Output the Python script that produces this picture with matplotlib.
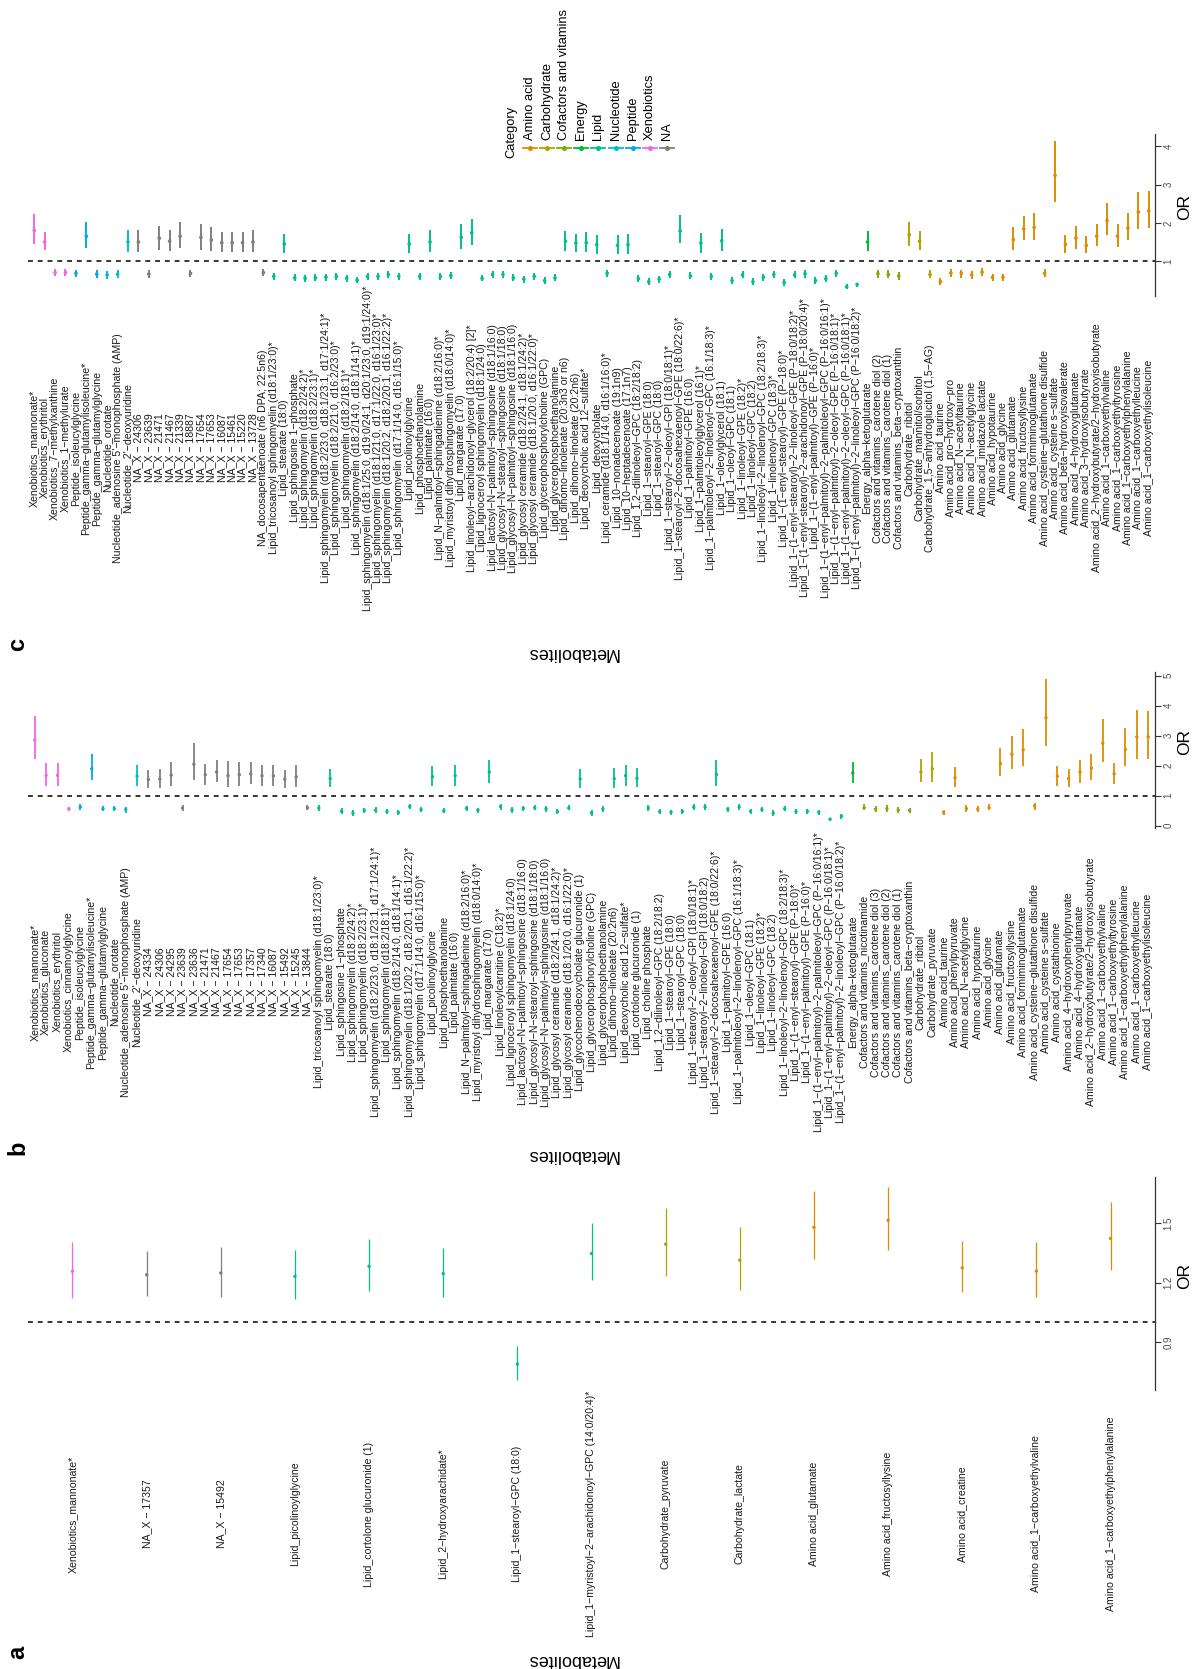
import matplotlib
matplotlib.use("Agg")
import matplotlib.pyplot as plt
from matplotlib.lines import Line2D
import numpy as np

plt.rcParams['font.family'] = ['Liberation Sans', 'DejaVu Sans']

CATEGORIES = ["Amino acid", "Carbohydrate", "Cofactors and vitamins", "Energy", "Lipid",
              "Nucleotide", "Peptide", "Xenobiotics", "NA"]
CAT_COLORS = ["#DE8C00", "#B79F00", "#7CAE00", "#00BA38", "#00C08B",
              "#00BFC4", "#00A9F0", "#F564E3", "#7F7F7F"]

# ---------------- panel a ----------------
labels_a = ["Xenobiotics_mannonate*", "NA_X - 17357", "NA_X - 15492", "Lipid_picolinoylglycine",
            "Lipid_cortolone glucuronide (1)", "Lipid_2-hydroxyarachidate*", "Lipid_1-stearoyl-GPC (18:0)",
            "Lipid_1-myristoyl-2-arachidonoyl-GPC (14:0/20:4)*", "Carbohydrate_pyruvate", "Carbohydrate_lactate",
            "Amino acid_glutamate", "Amino acid_fructosyllysine", "Amino acid_creatine",
            "Amino acid_1-carboxyethylvaline", "Amino acid_1-carboxyethylphenylalanine"]
or_a = [1.257, 1.239, 1.248, 1.231, 1.282, 1.245, 0.787, 1.347, 1.394, 1.313, 1.479, 1.515, 1.274, 1.258, 1.423]
lo_a = [1.121, 1.130, 1.128, 1.116, 1.155, 1.128, 0.705, 1.214, 1.233, 1.162, 1.320, 1.363, 1.150, 1.125, 1.262]
hi_a = [1.404, 1.359, 1.378, 1.365, 1.421, 1.373, 0.880, 1.500, 1.575, 1.483, 1.661, 1.685, 1.411, 1.407, 1.606]

# ---------------- panel b ----------------
labels_b = [
    "Xenobiotics_mannonate*", "Xenobiotics_gluconate", "Xenobiotics_erythritol", "Xenobiotics_cinnamoylglycine",
    "Peptide_isoleucylglycine", "Peptide_gamma-glutamylisoleucine*", "Peptide_gamma-glutamylglycine",
    "Nucleotide_orotate", "Nucleotide_adenosine 5'-monophosphate (AMP)", "Nucleotide_2'-deoxyuridine",
    "NA_X - 24334", "NA_X - 24306", "NA_X - 24295", "NA_X - 23639", "NA_X - 23636", "NA_X - 21471",
    "NA_X - 21467", "NA_X - 17654", "NA_X - 17653", "NA_X - 17357", "NA_X - 17340", "NA_X - 16087",
    "NA_X - 15492", "NA_X - 15245", "NA_X - 13844",
    "Lipid_tricosanoyl sphingomyelin (d18:1/23:0)*", "Lipid_stearate (18:0)", "Lipid_sphingosine 1-phosphate",
    "Lipid_sphingomyelin (d18:2/24:2)*", "Lipid_sphingomyelin (d18:2/23:1)*",
    "Lipid_sphingomyelin (d18:2/23:0, d18:1/23:1, d17:1/24:1)*", "Lipid_sphingomyelin (d18:2/18:1)*",
    "Lipid_sphingomyelin (d18:2/14:0, d18:1/14:1)*", "Lipid_sphingomyelin (d18:1/20:2, d18:2/20:1, d16:1/22:2)*",
    "Lipid_sphingomyelin (d17:1/14:0, d16:1/15:0)*", "Lipid_picolinoylglycine", "Lipid_phosphoethanolamine",
    "Lipid_palmitate (16:0)", "Lipid_N-palmitoyl-sphingadienine (d18:2/16:0)*",
    "Lipid_myristoyl dihydrosphingomyelin (d18:0/14:0)*", "Lipid_margarate (17:0)",
    "Lipid_linoleoylcarnitine (C18:2)*", "Lipid_lignoceroyl sphingomyelin (d18:1/24:0)",
    "Lipid_lactosyl-N-palmitoyl-sphingosine (d18:1/16:0)", "Lipid_glycosyl-N-stearoyl-sphingosine (d18:1/18:0)",
    "Lipid_glycosyl-N-palmitoyl-sphingosine (d18:1/16:0)", "Lipid_glycosyl ceramide (d18:2/24:1, d18:1/24:2)*",
    "Lipid_glycosyl ceramide (d18:1/20:0, d16:1/22:0)*", "Lipid_glycochenodeoxycholate glucuronide (1)",
    "Lipid_glycerophosphorylcholine (GPC)", "Lipid_glycerophosphoethanolamine", "Lipid_dihomo-linoleate (20:2n6)",
    "Lipid_deoxycholic acid 12-sulfate*", "Lipid_cortolone glucuronide (1)", "Lipid_choline phosphate",
    "Lipid_1,2-dilinoleoyl-GPC (18:2/18:2)", "Lipid_1-stearoyl-GPE (18:0)", "Lipid_1-stearoyl-GPC (18:0)",
    "Lipid_1-stearoyl-2-oleoyl-GPI (18:0/18:1)*", "Lipid_1-stearoyl-2-linoleoyl-GPI (18:0/18:2)",
    "Lipid_1-stearoyl-2-docosahexaenoyl-GPE (18:0/22:6)*", "Lipid_1-palmitoyl-GPE (16:0)",
    "Lipid_1-palmitoleoyl-2-linolenoyl-GPC (16:1/18:3)*", "Lipid_1-oleoyl-GPC (18:1)",
    "Lipid_1-linoleoyl-GPE (18:2)*", "Lipid_1-linoleoyl-GPC (18:2)",
    "Lipid_1-linoleoyl-2-linolenoyl-GPC (18:2/18:3)*", "Lipid_1-(1-enyl-stearoyl)-GPE (P-18:0)*",
    "Lipid_1-(1-enyl-palmitoyl)-GPE (P-16:0)*", "Lipid_1-(1-enyl-palmitoyl)-2-palmitoleoyl-GPC (P-16:0/16:1)*",
    "Lipid_1-(1-enyl-palmitoyl)-2-oleoyl-GPC (P-16:0/18:1)*",
    "Lipid_1-(1-enyl-palmitoyl)-2-linoleoyl-GPC (P-16:0/18:2)*",
    "Energy_alpha-ketoglutarate", "Cofactors and vitamins_nicotinamide",
    "Cofactors and vitamins_carotene diol (3)", "Cofactors and vitamins_carotene diol (2)",
    "Cofactors and vitamins_carotene diol (1)", "Cofactors and vitamins_beta-cryptoxanthin",
    "Carbohydrate_ribitol", "Carbohydrate_pyruvate",
    "Amino acid_taurine", "Amino acid_phenylpyruvate", "Amino acid_N-acetylglycine", "Amino acid_hypotaurine",
    "Amino acid_glycine", "Amino acid_glutamate", "Amino acid_fructosyllysine", "Amino acid_formiminoglutamate",
    "Amino acid_cysteine-glutathione disulfide", "Amino acid_cysteine s-sulfate", "Amino acid_cystathionine",
    "Amino acid_4-hydroxyphenylpyruvate", "Amino acid_4-hydroxyglutamate",
    "Amino acid_2-hydroxybutyrate/2-hydroxyisobutyrate", "Amino acid_1-carboxyethylvaline",
    "Amino acid_1-carboxyethyltyrosine", "Amino acid_1-carboxyethylphenylalanine",
    "Amino acid_1-carboxyethylleucine", "Amino acid_1-carboxyethylisoleucine"]
or_b = [2.86, 1.68, 1.68, 0.56, 0.63, 1.90, 0.57, 0.57, 0.54, 1.65,
        1.54, 1.56, 1.69, 0.59, 2.05, 1.70, 1.79, 1.67, 1.70, 1.73, 1.66, 1.66, 1.55, 1.63, 0.60,
        0.59, 1.57, 0.48, 0.43, 0.51, 0.52, 0.47, 0.44, 0.64, 0.54, 1.64, 0.49, 1.67, 0.58, 0.52,
        1.79, 0.64, 0.53, 0.58, 0.60, 0.56, 0.47, 0.59, 1.56, 0.43, 0.56, 1.57, 1.67, 1.58, 0.59,
        0.47, 0.45, 0.48, 0.62, 0.62, 1.71, 0.55, 0.63, 0.48, 0.54, 0.42, 0.57, 0.47, 0.48, 0.45,
        0.22, 0.32, 1.76, 0.60, 0.55, 0.57, 0.52, 0.51, 1.79, 1.90,
        0.44, 1.60, 0.57, 0.55, 0.60, 2.07, 2.38, 2.53, 0.66, 3.60, 1.65, 1.57, 1.78, 1.92, 2.75,
        1.73, 2.55, 2.96, 2.96]
lo_b = [2.23, 1.34, 1.34, 0.48, 0.54, 1.51, 0.48, 0.48, 0.44, 1.31,
        1.26, 1.26, 1.34, 0.49, 1.54, 1.37, 1.45, 1.30, 1.34, 1.38, 1.34, 1.34, 1.26, 1.30, 0.51,
        0.49, 1.29, 0.40, 0.34, 0.42, 0.43, 0.40, 0.35, 0.55, 0.45, 1.31, 0.41, 1.32, 0.49, 0.43,
        1.44, 0.54, 0.44, 0.49, 0.51, 0.47, 0.38, 0.51, 1.26, 0.34, 0.47, 1.26, 1.34, 1.29, 0.49,
        0.38, 0.36, 0.40, 0.52, 0.52, 1.33, 0.46, 0.53, 0.40, 0.45, 0.33, 0.48, 0.38, 0.40, 0.36,
        0.16, 0.24, 1.42, 0.51, 0.45, 0.47, 0.42, 0.42, 1.45, 1.47,
        0.35, 1.30, 0.46, 0.45, 0.51, 1.65, 1.89, 1.98, 0.54, 2.66, 1.34, 1.29, 1.42, 1.54, 2.11,
        1.40, 1.98, 2.24, 2.24]
hi_b = [3.65, 2.09, 2.09, 0.64, 0.73, 2.40, 0.66, 0.66, 0.62, 2.01,
        1.86, 1.90, 2.12, 0.69, 2.76, 2.07, 2.19, 2.15, 2.13, 2.12, 2.01, 2.01, 1.87, 2.02, 0.70,
        0.69, 1.90, 0.58, 0.53, 0.60, 0.62, 0.56, 0.53, 0.74, 0.63, 2.00, 0.58, 2.04, 0.67, 0.60,
        2.20, 0.74, 0.62, 0.67, 0.69, 0.65, 0.56, 0.68, 1.89, 0.52, 0.65, 1.92, 2.03, 1.93, 0.69,
        0.56, 0.54, 0.57, 0.72, 0.72, 2.19, 0.64, 0.73, 0.57, 0.63, 0.51, 0.66, 0.56, 0.57, 0.54,
        0.27, 0.40, 2.13, 0.73, 0.66, 0.68, 0.63, 0.60, 2.23, 2.45,
        0.53, 1.96, 0.68, 0.67, 0.73, 2.59, 2.99, 3.24, 0.77, 4.89, 2.00, 1.90, 2.20, 2.38, 3.57,
        2.10, 3.25, 3.85, 3.84]

# ---------------- panel c ----------------
labels_c = [
    "Xenobiotics_mannonate*", "Xenobiotics_erythritol", "Xenobiotics_7-methylxanthine", "Xenobiotics_1-methylurate",
    "Peptide_isoleucylglycine", "Peptide_gamma-glutamylisoleucine*", "Peptide_gamma-glutamylglycine",
    "Nucleotide_orotate", "Nucleotide_adenosine 5'-monophosphate (AMP)", "Nucleotide_2'-deoxyuridine",
    "NA_X - 24306", "NA_X - 23639", "NA_X - 21471", "NA_X - 21467", "NA_X - 21339", "NA_X - 18887",
    "NA_X - 17654", "NA_X - 17653", "NA_X - 16087", "NA_X - 15461", "NA_X - 15220", "NA_X - 13728",
    "NA_docosapentaenoate (n6 DPA; 22:5n6)",
    "Lipid_tricosanoyl sphingomyelin (d18:1/23:0)*", "Lipid_stearate (18:0)", "Lipid_sphingosine 1-phosphate",
    "Lipid_sphingomyelin (d18:2/24:2)*", "Lipid_sphingomyelin (d18:2/23:1)*",
    "Lipid_sphingomyelin (d18:2/23:0, d18:1/23:1, d17:1/24:1)*", "Lipid_sphingomyelin (d18:2/21:0, d16:2/23:0)*",
    "Lipid_sphingomyelin (d18:2/18:1)*", "Lipid_sphingomyelin (d18:2/14:0, d18:1/14:1)*",
    "Lipid_sphingomyelin (d18:1/25:0, d19:0/24:1, d20:1/23:0, d19:1/24:0)*",
    "Lipid_sphingomyelin (d18:1/21:0, d17:1/22:0, d16:1/23:0)*",
    "Lipid_sphingomyelin (d18:1/20:2, d18:2/20:1, d16:1/22:2)*",
    "Lipid_sphingomyelin (d17:1/14:0, d16:1/15:0)*", "Lipid_picolinoylglycine", "Lipid_phosphoethanolamine",
    "Lipid_palmitate (16:0)", "Lipid_N-palmitoyl-sphingadienine (d18:2/16:0)*",
    "Lipid_myristoyl dihydrosphingomyelin (d18:0/14:0)*", "Lipid_margarate (17:0)",
    "Lipid_linoleoyl-arachidonoyl-glycerol (18:2/20:4) [2]*", "Lipid_lignoceroyl sphingomyelin (d18:1/24:0)",
    "Lipid_lactosyl-N-palmitoyl-sphingosine (d18:1/16:0)", "Lipid_glycosyl-N-stearoyl-sphingosine (d18:1/18:0)",
    "Lipid_glycosyl-N-palmitoyl-sphingosine (d18:1/16:0)", "Lipid_glycosyl ceramide (d18:2/24:1, d18:1/24:2)*",
    "Lipid_glycosyl ceramide (d18:1/20:0, d16:1/22:0)*", "Lipid_glycerophosphorylcholine (GPC)",
    "Lipid_glycerophosphoethanolamine", "Lipid_dihomo-linolenate (20:3n3 or n6)", "Lipid_dihomo-linoleate (20:2n6)",
    "Lipid_deoxycholic acid 12-sulfate*", "Lipid_deoxycholate", "Lipid_ceramide (d18:1/14:0, d16:1/16:0)*",
    "Lipid_10-nonadecenoate (19:1n9)", "Lipid_10-heptadecenoate (17:1n7)", "Lipid_1,2-dilinoleoyl-GPC (18:2/18:2)",
    "Lipid_1-stearoyl-GPE (18:0)", "Lipid_1-stearoyl-GPC (18:0)", "Lipid_1-stearoyl-2-oleoyl-GPI (18:0/18:1)*",
    "Lipid_1-stearoyl-2-docosahexaenoyl-GPE (18:0/22:6)*", "Lipid_1-palmitoyl-GPE (16:0)",
    "Lipid_1-palmitoleoylglycerol (16:1)*", "Lipid_1-palmitoleoyl-2-linolenoyl-GPC (16:1/18:3)*",
    "Lipid_1-oleoylglycerol (18:1)", "Lipid_1-oleoyl-GPC (18:1)", "Lipid_1-linoleoyl-GPE (18:2)*",
    "Lipid_1-linoleoyl-GPC (18:2)", "Lipid_1-linoleoyl-2-linolenoyl-GPC (18:2/18:3)*",
    "Lipid_1-linolenoyl-GPC (18:3)*", "Lipid_1-(1-enyl-stearoyl)-GPE (P-18:0)*",
    "Lipid_1-(1-enyl-stearoyl)-2-linoleoyl-GPE (P-18:0/18:2)*",
    "Lipid_1-(1-enyl-stearoyl)-2-arachidonoyl-GPE (P-18:0/20:4)*", "Lipid_1-(1-enyl-palmitoyl)-GPE (P-16:0)*",
    "Lipid_1-(1-enyl-palmitoyl)-2-palmitoleoyl-GPC (P-16:0/16:1)*",
    "Lipid_1-(1-enyl-palmitoyl)-2-oleoyl-GPE (P-16:0/18:1)*",
    "Lipid_1-(1-enyl-palmitoyl)-2-oleoyl-GPC (P-16:0/18:1)*",
    "Lipid_1-(1-enyl-palmitoyl)-2-linoleoyl-GPC (P-16:0/18:2)*",
    "Energy_alpha-ketoglutarate", "Cofactors and vitamins_carotene diol (2)",
    "Cofactors and vitamins_carotene diol (1)", "Cofactors and vitamins_beta-cryptoxanthin",
    "Carbohydrate_ribitol", "Carbohydrate_mannitol/sorbitol", "Carbohydrate_1,5-anhydroglucitol (1,5-AG)",
    "Amino acid_taurine", "Amino acid_pro-hydroxy-pro", "Amino acid_N-acetyltaurine", "Amino acid_N-acetylglycine",
    "Amino acid_imidazole lactate", "Amino acid_hypotaurine", "Amino acid_glycine", "Amino acid_glutamate",
    "Amino acid_fructosyllysine", "Amino acid_formiminoglutamate", "Amino acid_cysteine-glutathione disulfide",
    "Amino acid_cysteine s-sulfate", "Amino acid_beta-hydroxyisovalerate", "Amino acid_4-hydroxyglutamate",
    "Amino acid_3-hydroxyisobutyrate", "Amino acid_2-hydroxybutyrate/2-hydroxyisobutyrate",
    "Amino acid_1-carboxyethylvaline", "Amino acid_1-carboxyethyltyrosine",
    "Amino acid_1-carboxyethylphenylalanine", "Amino acid_1-carboxyethylleucine",
    "Amino acid_1-carboxyethylisoleucine"]
or_c = [1.80, 1.50, 0.70, 0.70, 0.68, 1.65, 0.66, 0.64, 0.66, 1.50,
        1.50, 0.66, 1.60, 1.52, 1.65, 0.68, 1.62, 1.55, 1.48, 1.48, 1.48, 1.50, 0.70,
        0.60, 1.45, 0.56, 0.55, 0.56, 0.58, 0.60, 0.55, 0.50, 0.60, 0.60, 0.65, 0.60,
        1.45, 0.60, 1.50, 0.60, 0.62, 1.62,
        1.74, 0.55, 0.65, 0.65, 0.56, 0.53, 0.60, 0.49, 0.56, 1.52, 1.47, 1.48, 1.43, 0.68,
        1.41, 1.43, 0.54, 0.46, 0.53, 0.65, 1.79, 0.61, 1.47, 0.60, 1.53, 0.49, 0.64, 0.46,
        0.58, 0.65, 0.44, 0.64, 0.67, 0.49, 0.54, 0.68, 0.33, 0.39,
        1.50, 0.67, 0.65, 0.61, 1.69, 1.52, 0.65,
        0.46, 0.69, 0.68, 0.64, 0.71, 0.58, 0.58, 1.56, 1.84, 1.88, 0.68, 3.24, 1.44, 1.60,
        1.41, 1.65, 2.06, 1.65, 1.86, 2.28, 2.31]
lo_c = [1.45, 1.28, 0.60, 0.60, 0.58, 1.35, 0.56, 0.54, 0.56, 1.25,
        1.25, 0.56, 1.30, 1.26, 1.33, 0.58, 1.30, 1.27, 1.24, 1.24, 1.24, 1.25, 0.60,
        0.51, 1.22, 0.47, 0.46, 0.47, 0.49, 0.51, 0.46, 0.42, 0.51, 0.51, 0.55, 0.51,
        1.22, 0.51, 1.25, 0.51, 0.53, 1.32,
        1.43, 0.47, 0.56, 0.56, 0.47, 0.44, 0.51, 0.41, 0.47, 1.26, 1.24, 1.24, 1.19, 0.58,
        1.19, 1.19, 0.45, 0.38, 0.44, 0.56, 1.46, 0.52, 1.21, 0.51, 1.26, 0.41, 0.55, 0.38,
        0.49, 0.56, 0.36, 0.55, 0.57, 0.41, 0.45, 0.58, 0.28, 0.33,
        1.26, 0.56, 0.55, 0.51, 1.40, 1.28, 0.55,
        0.38, 0.58, 0.57, 0.53, 0.60, 0.49, 0.49, 1.28, 1.54, 1.55, 0.58, 2.54, 1.21, 1.32,
        1.21, 1.39, 1.68, 1.37, 1.54, 1.85, 1.86]
hi_c = [2.22, 1.75, 0.80, 0.80, 0.78, 2.02, 0.76, 0.74, 0.76, 1.80,
        1.80, 0.76, 1.92, 1.82, 2.02, 0.78, 1.98, 1.88, 1.76, 1.76, 1.76, 1.80, 0.80,
        0.70, 1.72, 0.65, 0.64, 0.65, 0.67, 0.69, 0.64, 0.59, 0.69, 0.69, 0.75, 0.69,
        1.72, 0.69, 1.80, 0.69, 0.72, 1.98,
        2.11, 0.64, 0.75, 0.75, 0.65, 0.62, 0.69, 0.58, 0.65, 1.79, 1.72, 1.75, 1.68, 0.78,
        1.68, 1.72, 0.63, 0.55, 0.62, 0.75, 2.20, 0.71, 1.74, 0.69, 1.84, 0.58, 0.74, 0.55,
        0.67, 0.75, 0.53, 0.74, 0.77, 0.58, 0.63, 0.77, 0.39, 0.44,
        1.78, 0.77, 0.76, 0.71, 2.02, 1.78, 0.76,
        0.55, 0.80, 0.78, 0.75, 0.82, 0.67, 0.67, 1.89, 2.19, 2.27, 0.79, 4.13, 1.69, 1.91,
        1.65, 1.96, 2.52, 1.96, 2.26, 2.80, 2.82]

ticks_a = [0.9, 1.2, 1.5]
ticks_b = [0, 1, 2, 3, 4, 5]
ticks_c = [1, 2, 3, 4]

W, H = 1193, 1669
fig = plt.figure(figsize=(W / 100, H / 100), dpi=100)


def fx(px):
    return px / W


def fy(py):
    return 1 - py / H


def category(label):
    return label.split("_", 1)[0]


def panel(labels, orv, lo, hi, ticks, top, bottom, label_center, lw, ms,
          title_y, or_y, letter, letter_y):
    ax = fig.add_axes([fx(28), fy(bottom), fx(1155) - fx(28), (bottom - top) / H])
    ax.patch.set_alpha(0)
    n = len(labels)
    x = np.arange(n)
    cols = [CAT_COLORS[CATEGORIES.index(category(l))] for l in labels]
    ax.axhline(1, color="black", lw=1.1, ls=(0, (3.2, 3.2)), zorder=1)
    ax.vlines(x, lo, hi, colors=cols, lw=lw, zorder=2)
    ax.scatter(x, orv, c=cols, s=ms, zorder=3, linewidths=0)
    ax.set_xlim(-0.6, n - 0.4)
    r = max(hi) - min(lo)
    ax.set_ylim(min(lo) - 0.05 * r, max(hi) + 0.05 * r)
    for s in ["top", "left", "bottom"]:
        ax.spines[s].set_visible(False)
    ax.spines["right"].set_color("#333333")
    ax.spines["right"].set_linewidth(0.9)
    ax.yaxis.tick_right()
    ax.set_yticks(ticks)
    ax.set_yticklabels([f"{t:g}" for t in ticks])
    ax.tick_params(axis="y", length=4, width=0.8, color="#333333", labelsize=7,
                   labelcolor="#4D4D4D", pad=2)
    for t in ax.get_yticklabels():
        t.set_rotation(90)
        t.set_va("center")
        t.set_ha("left")
    ax.set_xticks(x)
    ax.set_xticklabels([l.replace("-", "\u2212") for l in labels], fontsize=7.6, color="#1A1A1A")
    ax.tick_params(axis="x", length=0, pad=(label_center - bottom) * 72 / 100)
    for t in ax.get_xticklabels():
        t.set_rotation(90)
        t.set_va("center")
        t.set_ha("center")
    fig.text(fx(572), fy(title_y), "Metabolites", rotation=180, ha="center", va="center", fontsize=13)
    fig.text(fx(1192), fy(or_y), "OR", rotation=90, ha="right", va="center", fontsize=12.5)
    fig.text(fx(6), fy(letter_y), letter, rotation=90, ha="left", va="center", fontsize=17,
             fontweight="bold")
    return ax


panel(labels_c, or_c, lo_c, hi_c, ticks_c, 134, 296, 448, 1.4, 7, 652, 207, "c", 644)
panel(labels_b, or_b, lo_b, hi_b, ticks_b, 672, 828, 982, 1.3, 6, 1154, 742, "b", 1148)
panel(labels_a, or_a, lo_a, hi_a, ticks_a, 1177, 1390, 1514, 0.9, 6, 1659, 1276, "a", 1652)

# legend (drawn rotated like the rest of the figure)
fig.text(fx(511), fy(158), "Category", rotation=90, ha="center", va="bottom", fontsize=9.3)
for i, (c, col) in enumerate(zip(CATEGORIES, CAT_COLORS)):
    cx = 530 + i * 17.1
    fig.text(fx(cx), fy(140), c, rotation=90, ha="center", va="bottom", fontsize=9.3)
    fig.add_artist(Line2D([fx(cx - 7), fx(cx + 7)], [fy(148), fy(148)], color=col, lw=1.3,
                          transform=fig.transFigure))
    fig.add_artist(Line2D([fx(cx)], [fy(148)], marker="o", ms=2.6, color=col, lw=0,
                          transform=fig.transFigure))

fig.savefig("out.png", dpi=100)
